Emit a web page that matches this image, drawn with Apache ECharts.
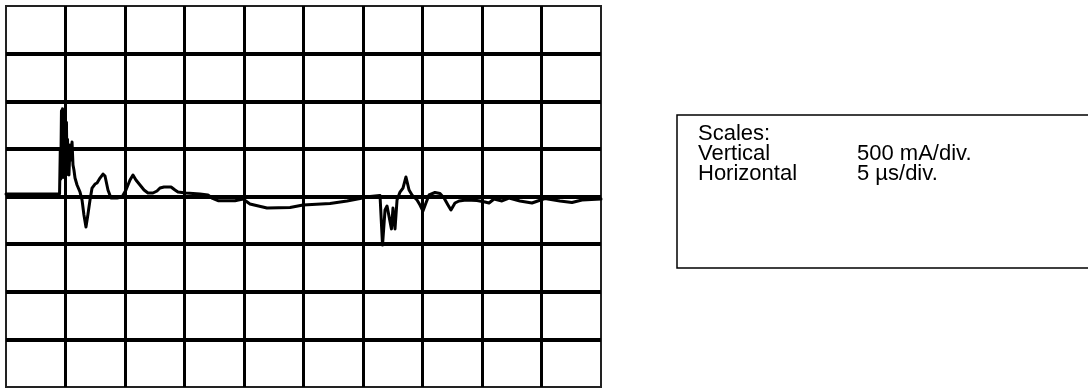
<!DOCTYPE html>
<html>
<head>
<meta charset="utf-8">
<title>Current waveform</title>
<script src="https://cdn.jsdelivr.net/npm/echarts@6/dist/echarts.min.js"></script>
<style>
  html, body { margin: 0; padding: 0; background: #fff; }
  #chart { width: 1088px; height: 389px; }
</style>
</head>
<body>
<div id="chart"></div>
<script>
// Sampled trace: time in microseconds, current in milliamps
const timeUs = [
  0.00, 4.50, 4.56, 4.60, 4.66, 4.70, 4.75, 4.79, 4.83, 4.88,
  4.92, 4.96, 5.00, 5.04, 5.08, 5.13, 5.17, 5.21, 5.25, 5.29,
  5.38, 5.46, 5.55, 5.63, 5.71, 5.80, 5.97, 6.22,
  6.39, 6.55, 6.72, 6.89, 7.06, 7.23, 7.48, 7.65, 7.90, 8.15,
  8.32, 8.57, 8.82, 9.33, 9.75, 10.08, 10.42, 10.67, 10.92, 11.26,
  11.60, 11.93, 12.35, 12.69, 12.94, 13.28, 13.87, 14.20, 14.45, 15.13,
  16.30, 16.97, 17.31, 17.82, 19.24, 19.92, 20.50, 21.93, 23.87, 24.96,
  27.23, 28.66, 29.75, 30.59, 31.43, 31.64, 31.85, 32.02, 32.18, 32.39,
  32.52, 32.69, 32.86, 33.11, 33.36, 33.61, 33.87, 34.12, 34.54, 34.79,
  35.04, 35.29, 35.55, 36.05, 36.47, 36.81, 37.14, 37.39, 37.73, 38.07,
  38.66, 39.58, 40.25, 40.59, 41.01, 41.68, 42.27, 43.19, 44.20, 45.29,
  46.55, 47.56, 48.40, 50.00
];
const currentMa = [
  26, 26, 480, 180, 900, 300, 920, 200, 880, 250,
  860, 200, 820, 260, 780, 230, 600, 260, 500, 226,
  541, 383, 572, 331, 278, 194, 121, 47,
  -37, -194, -320, -184, -37, 89, 131, 142, 194, 236,
  215, 68, -16, -16, -5, 68, 173, 226, 173, 121,
  68, 37, 37, 58, 89, 100, 100, 68, 47, 37,
  26, 16, -16, -44, -44, -26, -79, -121, -115, -89,
  -73, -47, -21, 0, 10, -510, -142, -100, -100, -340,
  -121, -340, -37, 47, 89, 205, 68, 16, -37, -89,
  -152, -68, 16, 42, 31, -16, -89, -142, -68, -47,
  -37, -42, -58, -68, -26, -47, -16, -47, -68, -21,
  -47, -63, -37, -26
];

// Screen scales: 10 horizontal and 8 vertical divisions
const timeTicks = [0, 5, 10, 15, 20, 25, 30, 35, 40, 45, 50];
const currentTicks = [-2000, -1500, -1000, -500, 0, 500, 1000, 1500, 2000];

const scaleLines = [
  'Scales:',
  'Vertical',
  'Horizontal'
];
const scaleValues = [
  '',
  '500 mA/div.',
  '5 \u00b5s/div.'
];

const points = timeUs.map((t, i) => [t, currentMa[i]]);

const chart = echarts.init(document.getElementById('chart'), null, { renderer: 'canvas' });

const textFont = '22px "Liberation Sans", Arial, sans-serif';
const labelGraphics = [];
scaleLines.forEach((s, i) => {
  labelGraphics.push({
    type: 'text',
    left: 698,
    top: 123 + i * 20,
    style: { text: s, font: textFont, fill: '#000' }
  });
  if (scaleValues[i]) {
    labelGraphics.push({
      type: 'text',
      left: 857,
      top: 123 + i * 20,
      style: { text: scaleValues[i], font: textFont, fill: '#000' }
    });
  }
});

chart.setOption({
  animation: false,
  backgroundColor: '#fff',
  grid: {
    left: 6, top: 6, width: 595, height: 381,
    show: true, borderColor: '#222', borderWidth: 2, backgroundColor: 'transparent'
  },
  xAxis: {
    type: 'value',
    min: timeTicks[0], max: timeTicks[timeTicks.length - 1], interval: 5,
    axisLine: { show: false }, axisTick: { show: false }, axisLabel: { show: false },
    splitLine: { show: true, showMinLine: false, showMaxLine: false, lineStyle: { color: '#000', width: 3 } }
  },
  yAxis: {
    type: 'value',
    min: currentTicks[0], max: currentTicks[currentTicks.length - 1], interval: 500,
    axisLine: { show: false }, axisTick: { show: false }, axisLabel: { show: false },
    splitLine: { show: true, showMinLine: false, showMaxLine: false, lineStyle: { color: '#000', width: 4 } }
  },
  series: [{
    type: 'line',
    data: points,
    showSymbol: false,
    lineStyle: { color: '#000', width: 3, join: 'round', cap: 'round' },
    z: 5
  }],
  graphic: [
    {
      type: 'rect',
      shape: { x: 677, y: 115, width: 440, height: 153 },
      style: { fill: '#fff', stroke: '#000', lineWidth: 1.5 }
    }
  ].concat(labelGraphics)
});
</script>
</body>
</html>
